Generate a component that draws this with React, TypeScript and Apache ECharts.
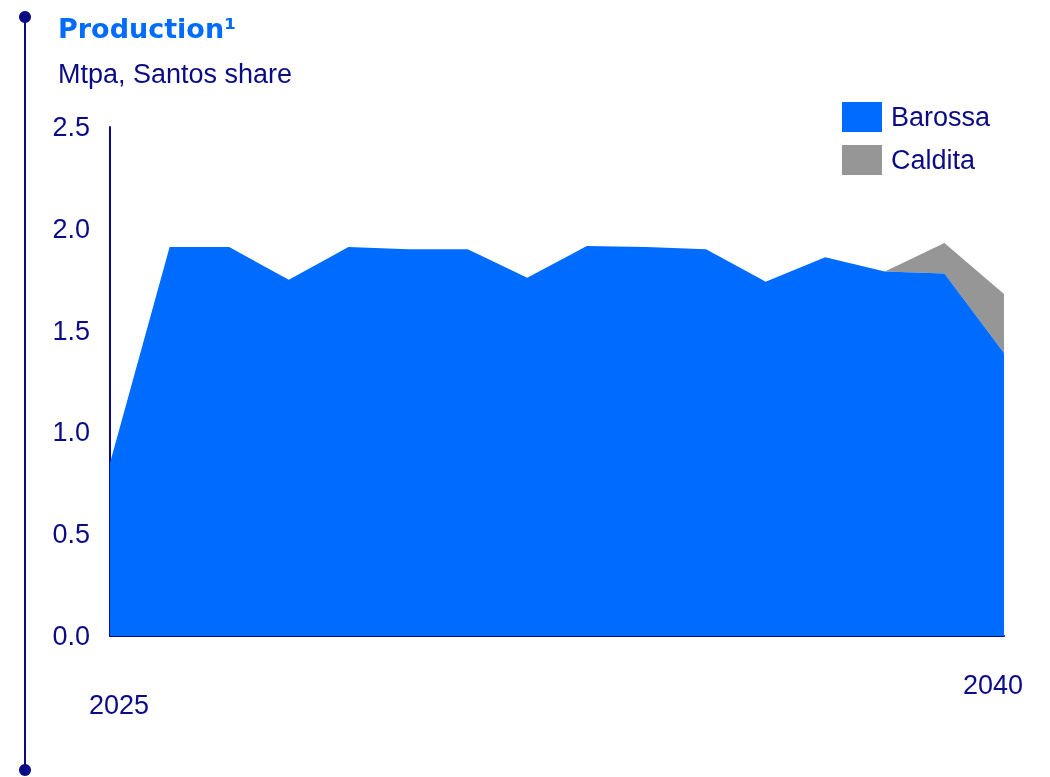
import React, { useEffect, useRef } from "react";
import * as echarts from "echarts";

const years = ["2025", "2026", "2027", "2028", "2029", "2030", "2031", "2032", "2033", "2034", "2035", "2036", "2037", "2038", "2039", "2040"];
const barossa = [0.85, 1.91, 1.91, 1.75, 1.91, 1.9, 1.9, 1.76, 1.915, 1.91, 1.9, 1.74, 1.86, 1.79, 1.78, 1.39];
const caldita: (number | string)[] = ["-", "-", "-", "-", "-", "-", "-", "-", "-", "-", "-", "-", "-", 0, 0.15, 0.29];
const yTicks = { min: 0, max: 2.5, interval: 0.5 };

const NAVY = "#0b0b86";
const BLUE = "#006cff";
const GREY = "#969696";
const FONT = "Liberation Sans, Arial, sans-serif";
const FS = 27;

export default function App() {
  const ref = useRef<HTMLDivElement>(null);
  useEffect(() => {
    const chart = echarts.init(ref.current!, null, { renderer: "svg" });
    chart.setOption({
      animation: false,
      textStyle: { fontFamily: FONT },
      title: [
        {
          text: "Production¹",
          left: 58,
          top: 15,
          padding: 0,
          textStyle: { fontFamily: "DejaVu Sans, sans-serif", fontSize: 27, fontWeight: 900, color: BLUE },
        },
        {
          text: "Mtpa, Santos share",
          left: 58,
          top: 60,
          padding: 0,
          textStyle: { fontFamily: FONT, fontSize: FS, fontWeight: "normal", color: NAVY },
        },
      ],
      legend: {
        orient: "vertical",
        left: 842,
        top: 102,
        padding: 0,
        itemWidth: 40,
        itemHeight: 30,
        itemGap: 13,
        icon: "rect",
        data: ["Barossa", "Caldita"],
        textStyle: { fontFamily: FONT, fontSize: FS, color: NAVY, padding: [3, 0, 0, 4] },
      },
      grid: { left: 110, right: 46, top: 127, bottom: 141, containLabel: false },
      xAxis: {
        type: "category",
        data: years,
        boundaryGap: false,
        axisLine: { show: true, lineStyle: { color: NAVY, width: 2 } },
        axisTick: { show: false },
        axisLabel: {
          interval: (idx: number) => idx === 0 || idx === years.length - 1,
          margin: 35,
          fontSize: FS,
          color: NAVY,
          fontFamily: FONT,
          formatter: (v: string, idx: number) => (idx === 0 ? `{a|${v}}` : `{b|${v}}`),
          rich: {
            a: { fontSize: FS, color: NAVY, fontFamily: FONT, padding: [20, 0, 0, 18] },
            b: { fontSize: FS, color: NAVY, fontFamily: FONT, padding: [0, 22, 0, 0] },
          },
        },
        splitLine: { show: false },
      },
      yAxis: {
        type: "value",
        min: yTicks.min,
        max: yTicks.max,
        interval: yTicks.interval,
        axisLine: { show: true, lineStyle: { color: NAVY, width: 2 } },
        axisTick: { show: false },
        splitLine: { show: false },
        axisLabel: {
          margin: 20,
          fontSize: FS,
          color: NAVY,
          fontFamily: FONT,
          formatter: (v: number) => v.toFixed(1),
        },
      },
      series: [
        {
          name: "Barossa",
          type: "line",
          stack: "total",
          data: barossa,
          symbol: "none",
          lineStyle: { width: 0 },
          itemStyle: { color: BLUE },
          areaStyle: { color: BLUE, opacity: 1 },
          z: 2,
        },
        {
          name: "Caldita",
          type: "line",
          stack: "total",
          data: caldita,
          symbol: "none",
          lineStyle: { width: 0 },
          itemStyle: { color: GREY },
          areaStyle: { color: GREY, opacity: 1 },
          z: 1,
        },
      ],
      graphic: [
        { type: "line", shape: { x1: 25, y1: 17, x2: 25, y2: 770 }, style: { stroke: NAVY, lineWidth: 2 } },
        { type: "circle", shape: { cx: 25, cy: 17, r: 6 }, style: { fill: NAVY } },
        { type: "circle", shape: { cx: 25, cy: 770, r: 6 }, style: { fill: NAVY } },
      ],
    });
    return () => chart.dispose();
  }, []);
  return <div ref={ref} style={{ position: "fixed", left: 0, top: 0, width: 1050, height: 777 }} />;
}
